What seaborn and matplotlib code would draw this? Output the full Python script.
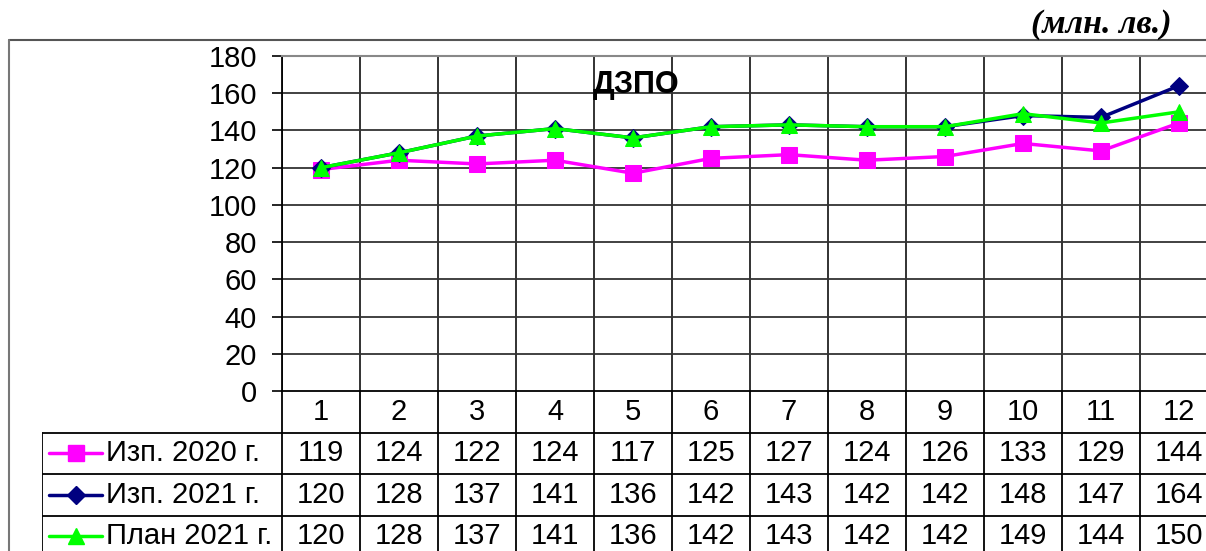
import matplotlib
matplotlib.use("Agg")
import matplotlib.pyplot as plt
import seaborn as sns
import pandas as pd
from matplotlib.lines import Line2D

months = [1, 2, 3, 4, 5, 6, 7, 8, 9, 10, 11, 12]
izp_2020 = [119, 124, 122, 124, 117, 125, 127, 124, 126, 133, 129, 144]
izp_2021 = [120, 128, 137, 141, 136, 142, 143, 142, 142, 148, 147, 164]
plan_2021 = [120, 128, 137, 141, 136, 142, 143, 142, 142, 149, 144, 150]
series_names = ["Изп. 2020 г.", "Изп. 2021 г.", "План 2021 г."]
y_ticks = [0, 20, 40, 60, 80, 100, 120, 140, 160, 180]

colors = {"Изп. 2020 г.": "#FF00FF", "Изп. 2021 г.": "#000080", "План 2021 г.": "#00FF00"}
markers = {"Изп. 2020 г.": "s", "Изп. 2021 г.": "D", "План 2021 г.": "^"}
msizes = {"Изп. 2020 г.": 11, "Изп. 2021 г.": 9, "План 2021 г.": 11}

df = pd.DataFrame({
    "month": months * 3,
    "value": izp_2020 + izp_2021 + plan_2021,
    "series": [s for s in series_names for _ in months],
})

sns.set_style("white")
plt.rcParams["font.family"] = ["Liberation Sans", "DejaVu Sans"]
plt.rcParams["text.color"] = "black"
plt.rcParams["ytick.color"] = "black"
plt.rcParams["ytick.labelcolor"] = "black"
FS = 21

W, H = 1206, 551
fig = plt.figure(figsize=(W / 100, H / 100), dpi=100)

# pixel layout helpers
col_w = 78.0
x0_px = 282
top_px, zero_px = 56, 391
def fx(px):
    return px / W
def fy(py):
    return 1 - py / H

ax = fig.add_axes([fx(x0_px), fy(zero_px), col_w * 12 / W, (zero_px - top_px) / H])
ax.set_xlim(0.5, 12.5)
ax.set_ylim(0, 180)

# grid
for k in range(13):
    ax.axvline(k + 0.5, color="#222222", lw=1.3, zorder=1)
for v in y_ticks[1:]:
    ax.axhline(v, color="#333333", lw=1.3, zorder=1)

for name in series_names:
    sub = df[df.series == name]
    sns.lineplot(data=sub, x="month", y="value", ax=ax, color=colors[name],
                 marker=markers[name], markersize=msizes[name],
                 markeredgecolor=colors[name], lw=2.5, zorder=3)

ax.set_xlabel("")
ax.set_ylabel("")
ax.set_xticks([])
ax.set_yticks(y_ticks)
ax.set_yticklabels([str(v) for v in y_ticks], fontsize=FS, color="black")
ax.tick_params(axis="y", direction="out", length=7, width=1.2, color="black", pad=11, left=True)
ax.spines["right"].set_visible(False)
ax.spines["top"].set_color("#888888")
ax.spines["top"].set_linewidth(1.5)
ax.spines["left"].set_color("black")
ax.spines["left"].set_linewidth(1.3)
ax.spines["bottom"].set_color("black")
ax.spines["bottom"].set_linewidth(1.3)

ax.text(5.04, 164.5, "ДЗПО", fontsize=22, fontweight="bold", ha="center", va="center", color="black")

# data table below the plot
row_h = 41.5
leg_left_px = 42
tab = fig.add_axes([fx(leg_left_px), fy(zero_px + 4 * row_h), (x0_px + 12 * col_w - leg_left_px) / W, 4 * row_h / H])
tab.set_xlim(0.5 - (x0_px - leg_left_px) / col_w, 12.5)
tab.set_ylim(4, 0)
tab.axis("off")
x_leg = tab.get_xlim()[0]

for k in range(13):
    tab.plot([k + 0.5, k + 0.5], [0, 4], color="black", lw=1.3)
tab.plot([x_leg, x_leg], [1, 4], color="black", lw=1.3)
for r in [1, 2, 3]:
    tab.plot([x_leg, 12.5], [r, r], color="black", lw=1.3)

for m in months:
    tab.text(m, 0.5, str(m), ha="center", va="center", fontsize=FS)

rows = [izp_2020, izp_2021, plan_2021]
for i, (name, vals) in enumerate(zip(series_names, rows)):
    yc = i + 1.5
    for m, v in zip(months, vals):
        tab.text(m, yc, str(v), ha="center", va="center", fontsize=FS)
    lx1 = x_leg + 7 / col_w
    lx2 = x_leg + 60 / col_w
    tab.plot([lx1, lx2], [yc, yc], color=colors[name], lw=2.5)
    tab.plot([(lx1 + lx2) / 2], [yc], marker=markers[name], color=colors[name],
             markersize=msizes[name], markeredgecolor=colors[name])
    tab.text(x_leg + 64 / col_w, yc, name, ha="left", va="center", fontsize=FS)

# outer frame of the chart object
fig.add_artist(Line2D([fx(9), 1.0], [fy(40), fy(40)], color="#555555", lw=1.5))
fig.add_artist(Line2D([fx(9), fx(9)], [fy(40), 0.0], color="#777777", lw=1.5))

fig.text(fx(1172), fy(25), "(млн. лв.)", ha="right", va="center", fontsize=24.5,
         fontweight="bold", fontstyle="italic", family=["Liberation Serif", "DejaVu Serif"])

fig.savefig("out.png", dpi=100)
